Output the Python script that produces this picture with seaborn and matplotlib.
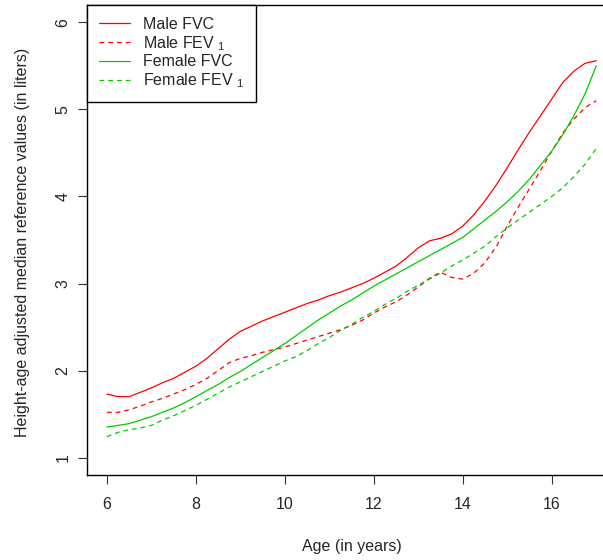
import matplotlib
matplotlib.use("Agg")
import matplotlib.pyplot as plt
import seaborn as sns
import pandas as pd

# Age grid (years) and height-age adjusted median reference values (liters)
age = [6.00, 6.25, 6.50, 6.75, 7.00, 7.25, 7.50, 7.75, 8.00, 8.25, 8.50, 8.75,
       9.00, 9.25, 9.50, 9.75, 10.00, 10.25, 10.50, 10.75, 11.00, 11.25, 11.50,
       11.75, 12.00, 12.25, 12.50, 12.75, 13.00, 13.25, 13.50, 13.75, 14.00,
       14.25, 14.50, 14.75, 15.00, 15.25, 15.50, 15.75, 16.00, 16.25, 16.50,
       16.75, 17.00]

male_fvc = [1.73, 1.70, 1.70, 1.75, 1.80, 1.86, 1.91, 1.98, 2.05, 2.14, 2.25, 2.36,
            2.45, 2.51, 2.57, 2.62, 2.67, 2.72, 2.77, 2.81, 2.86, 2.90, 2.95,
            3.00, 3.06, 3.13, 3.20, 3.30, 3.41, 3.49, 3.52, 3.57, 3.66,
            3.79, 3.95, 4.13, 4.33, 4.54, 4.74, 4.93, 5.12, 5.31, 5.44,
            5.53, 5.56]
male_fev1 = [1.52, 1.52, 1.55, 1.59, 1.64, 1.68, 1.73, 1.78, 1.84, 1.91, 2.00, 2.09,
             2.14, 2.17, 2.21, 2.24, 2.27, 2.31, 2.35, 2.39, 2.43, 2.47, 2.52,
             2.58, 2.66, 2.73, 2.79, 2.87, 2.96, 3.06, 3.13, 3.07, 3.05,
             3.12, 3.24, 3.42, 3.66, 3.88, 4.09, 4.30, 4.52, 4.73, 4.89,
             5.02, 5.10]
female_fvc = [1.35, 1.37, 1.39, 1.43, 1.47, 1.52, 1.57, 1.63, 1.70, 1.77, 1.84, 1.92,
              1.99, 2.07, 2.15, 2.23, 2.31, 2.40, 2.49, 2.58, 2.66, 2.74, 2.81,
              2.89, 2.97, 3.04, 3.11, 3.18, 3.25, 3.32, 3.39, 3.46, 3.53,
              3.63, 3.73, 3.83, 3.94, 4.06, 4.20, 4.36, 4.52, 4.71, 4.93,
              5.18, 5.50]
female_fev1 = [1.24, 1.29, 1.32, 1.34, 1.37, 1.43, 1.48, 1.54, 1.60, 1.67, 1.74, 1.81,
               1.87, 1.93, 1.99, 2.05, 2.11, 2.16, 2.23, 2.31, 2.38, 2.46, 2.53,
               2.61, 2.68, 2.76, 2.83, 2.91, 2.98, 3.05, 3.12, 3.20, 3.27,
               3.35, 3.43, 3.54, 3.64, 3.73, 3.82, 3.91, 4.00, 4.10, 4.23,
               4.37, 4.55]

series_labels = ["Male FVC", r"Male FEV $_{\mathrm{1}}$",
                 "Female FVC", r"Female FEV $_{\mathrm{1}}$"]
x_ticks = [6, 8, 10, 12, 14, 16]
y_ticks = [1, 2, 3, 4, 5, 6]

sns.set_style("ticks")
plt.rcParams["font.family"] = ["Liberation Sans", "DejaVu Sans"]
plt.rcParams["mathtext.fontset"] = "custom"
plt.rcParams["mathtext.rm"] = "Liberation Sans"
plt.rcParams["mathtext.it"] = "Liberation Sans:italic"
plt.rcParams["mathtext.bf"] = "Liberation Sans:bold"

RED = "#FF0000"
GREEN = "#00CC00"
FS = 11.5

df = pd.DataFrame({
    "age": age * 4,
    "value": male_fvc + male_fev1 + female_fvc + female_fev1,
    "series": sum([[lab] * len(age) for lab in series_labels], []),
})

fig = plt.figure(figsize=(6.03, 5.6), dpi=100)
ax = fig.add_axes([0.1448, 0.1518, 0.8764, 0.8393])

palette = {series_labels[0]: RED, series_labels[1]: RED,
           series_labels[2]: GREEN, series_labels[3]: GREEN}
dashes = {series_labels[0]: "", series_labels[1]: (3.8, 3.2),
          series_labels[2]: "", series_labels[3]: (3.8, 3.2)}

sns.lineplot(data=df, x="age", y="value", hue="series", style="series",
             hue_order=series_labels, style_order=series_labels,
             palette=palette, dashes=dashes, linewidth=0.9,
             estimator=None, sort=False, ax=ax)

ax.set_xlim(5.56, 17.44)
ax.set_ylim(0.8, 6.2)
ax.set_xticks(x_ticks)
ax.set_xticklabels([str(t) for t in x_ticks], fontsize=FS)
ax.set_yticks(y_ticks)
ax.set_yticklabels([str(t) for t in y_ticks], fontsize=FS, rotation=90, va="center")
ax.tick_params(axis="both", direction="out", length=6.5, width=0.8, color="#333333")
ax.tick_params(axis="x", pad=9.5)
ax.tick_params(axis="y", pad=5.5)
ax.set_xlabel("")
ax.set_ylabel("")

for side in ["left", "bottom", "top", "right"]:
    ax.spines[side].set_visible(True)
    ax.spines[side].set_color("black")
    ax.spines[side].set_linewidth(1.0)

fig.text(351.5 / 603, 9.0 / 560, "Age (in years)", fontsize=FS,
         ha="center", va="baseline")
fig.text(26.7 / 603, (560 - 242) / 560,
         "Height-age adjusted median reference values (in liters)",
         fontsize=FS, rotation=90, rotation_mode="anchor",
         ha="center", va="baseline")

leg = ax.legend(loc="upper left", bbox_to_anchor=(0, 1), borderaxespad=0.0,
                fontsize=FS, frameon=True, fancybox=False, framealpha=1.0,
                edgecolor="black", handlelength=1.95, handletextpad=0.8,
                borderpad=0.75, labelspacing=0.12)
leg.get_frame().set_linewidth(1.0)
leg.get_frame().set_facecolor("white")

fig.savefig("out.png", dpi=100)
